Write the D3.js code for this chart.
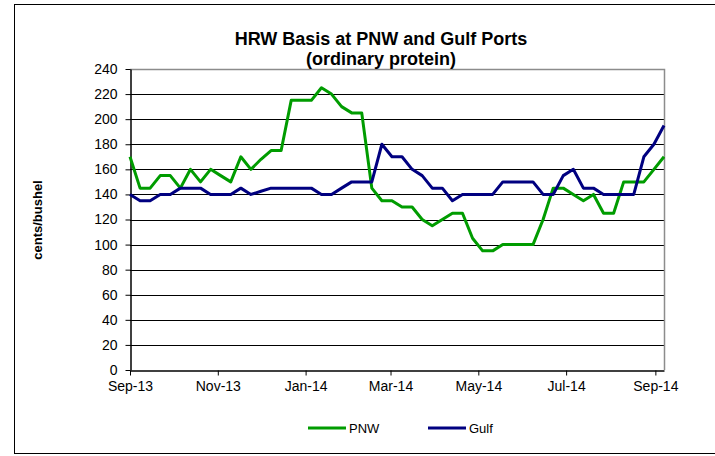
<!DOCTYPE html>
<html>
<head>
<meta charset="utf-8">
<script src="https://cdn.jsdelivr.net/npm/d3@7"></script>
<style>
  html, body { margin: 0; padding: 0; background: #fff; }
  svg { display: block; font-family: "Liberation Sans", Arial, sans-serif; }
</style>
</head>
<body>
<svg id="chart" width="715" height="456"></svg>
<script>
// ---- data ----
const startDate = "2013-09-05";
const pnw = [170,145,145,155,155,145,160,150,160,155,150,170,160,168,175,175,215,215,215,225,220,210,205,205,145,135,135,130,130,120,115,120,125,125,105,95,95,100,100,100,100,120,145,145,140,135,140,125,125,150,150,150,160,170];
const gulf = [140,135,135,140,140,145,145,145,140,140,140,145,140,142.5,145,145,145,145,145,140,140,145,150,150,150,180,170,170,160,155,145,145,135,140,140,140,140,150,150,150,150,140,140,155,160,145,145,140,140,140,140,170,180,195];
const xTickDates = ["2013-09-05","2013-11-05","2014-01-05","2014-03-05","2014-05-05","2014-07-05","2014-09-05"];
const yTicks = [0,20,40,60,80,100,120,140,160,180,200,220,240];
const titleLines = ["HRW Basis at PNW and Gulf Ports", "(ordinary protein)"];
const yTitle = "cents/bushel";
const seriesNames = ["PNW", "Gulf"];
const seriesColors = ["#009c00", "#000080"];

// ---- build ----
const parse = d3.utcParse("%Y-%m-%d");
const d0 = parse(startDate);
const dates = pnw.map((_, i) => d3.utcDay.offset(d0, 7 * i));
const series = [pnw, gulf];

const svg = d3.select("#chart");
const L = 130, R = 664, T = 69, B = 370;

// outer frame
svg.append("rect").attr("x", 14.5).attr("y", 4.5).attr("width", 720).attr("height", 449)
  .attr("fill", "none").attr("stroke", "#000").attr("stroke-width", 1);

const x = d3.scaleUtc().domain([dates[0], dates[dates.length - 1]]).range([L, R]);
const y = d3.scaleLinear().domain([0, 240]).range([B, T]);

// gridlines
svg.append("g").selectAll("line").data(yTicks.filter(v => v > 0 && v < 240)).join("line")
  .attr("x1", L).attr("x2", R)
  .attr("y1", d => Math.round(y(d)) + 0.5).attr("y2", d => Math.round(y(d)) + 0.5)
  .attr("stroke", "#000").attr("stroke-width", 1);

// plot border (top/right gray)
svg.append("path")
  .attr("d", `M${L},${T + 0.5}H${R + 0.5}V${B}`)
  .attr("fill", "none").attr("stroke", "#8c8c8c").attr("stroke-width", 1.5);

// y axis
const yAxis = svg.append("g").attr("transform", `translate(${L + 0.5},0)`)
  .call(d3.axisLeft(y).tickValues(yTicks).tickSize(5).tickPadding(8).tickSizeOuter(0));
yAxis.select(".domain").attr("stroke", "#000").attr("stroke-width", 1.5);
yAxis.selectAll(".tick line").attr("stroke", "#000");
yAxis.selectAll(".tick text").attr("font-size", 14).attr("fill", "#000")
  .attr("font-family", "Liberation Sans, Arial, sans-serif");

// x axis
const xAxis = svg.append("g").attr("transform", `translate(0,${B + 0.5})`)
  .call(d3.axisBottom(x).tickValues(xTickDates.map(parse)).tickFormat(d3.utcFormat("%b-%y"))
    .tickSize(5).tickPadding(6).tickSizeOuter(0));
xAxis.select(".domain").attr("stroke", "#000").attr("stroke-width", 1.5);
xAxis.selectAll(".tick line").attr("stroke", "#000");
xAxis.selectAll(".tick text").attr("font-size", 14).attr("fill", "#000")
  .attr("font-family", "Liberation Sans, Arial, sans-serif");

// lines
const line = d3.line().x((d, i) => x(dates[i])).y(d => y(d));
series.forEach((s, k) => {
  svg.append("path").datum(s).attr("d", line)
    .attr("fill", "none").attr("stroke", seriesColors[k]).attr("stroke-width", 3)
    .attr("stroke-linejoin", "round");
});

// title
svg.append("text").attr("x", 381).attr("y", 45).attr("text-anchor", "middle")
  .attr("font-size", 18).attr("font-weight", "bold").text(titleLines[0]);
svg.append("text").attr("x", 381).attr("y", 65).attr("text-anchor", "middle")
  .attr("font-size", 18).attr("font-weight", "bold").text(titleLines[1]);

// y title
svg.append("text").attr("transform", "translate(42,220) rotate(-90)")
  .attr("text-anchor", "middle").attr("font-size", 13).attr("font-weight", "bold").text(yTitle);

// legend
const legX = [308, 428];
seriesNames.forEach((n, k) => {
  const g = svg.append("g").attr("transform", `translate(${legX[k]},428)`);
  g.append("line").attr("x1", 0).attr("x2", 38).attr("y1", 0).attr("y2", 0)
    .attr("stroke", seriesColors[k]).attr("stroke-width", 3);
  g.append("text").attr("x", 41).attr("y", 5).attr("font-size", 13).text(n);
});
</script>
</body>
</html>
